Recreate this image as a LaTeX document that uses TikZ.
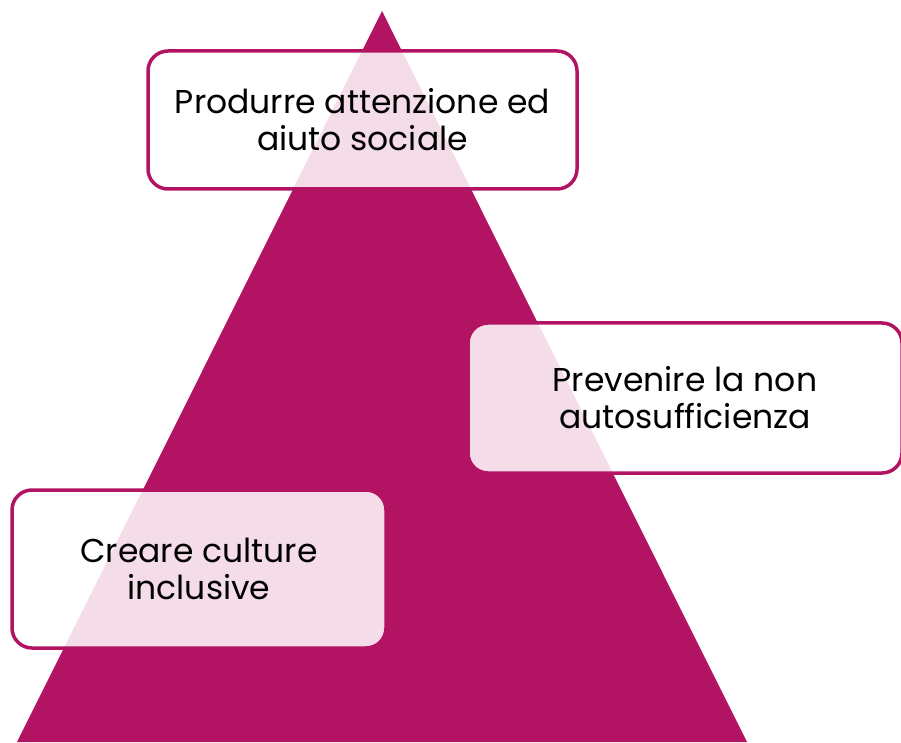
\documentclass[tikz,border=0pt]{standalone}
\usepackage{fontspec}
\setmainfont{Poppins}
\usepackage{xcolor}
\usepackage{tikz}
\usetikzlibrary{positioning, shapes, calc}
\definecolor{pyramid}{RGB}{178,20,99}

\begin{document}
\begin{tikzpicture}[x=1pt,y=1pt,
	goalbox/.style={draw=pyramid,line width=3.5pt,rounded corners=20pt,fill=white,fill opacity=.86,draw opacity=1,text opacity=1,align=center,font=\fontsize{33}{37}\selectfont,inner sep=0pt}]

% picture frame
\useasboundingbox (0,0) rectangle (901,742);

% set triangle dimensions
\pgfmathsetmacro{\apx}{382}
\pgfmathsetmacro{\apy}{731}
\pgfmathsetmacro{\half}{365}

% the pyramid
\coordinate (top) at (\apx,\apy);
\coordinate (bl) at (\apx-\half,0);
\coordinate (br) at (\apx+\half,0);
\fill[pyramid] (top) -- (bl) -- (br) -- cycle;

% goal boxes
\node[goalbox,minimum width=429pt,minimum height=138pt] (prod) at (362.5,622) {Produrre attenzione ed\\aiuto sociale};
\node[goalbox,minimum width=434pt,minimum height=150pt] (prev) at (685,344) {Prevenire la non\\autosufficienza};
\node[goalbox,minimum width=374pt,minimum height=158pt] (crea) at (199,173) {Creare culture\\inclusive};

\end{tikzpicture}
\end{document}
